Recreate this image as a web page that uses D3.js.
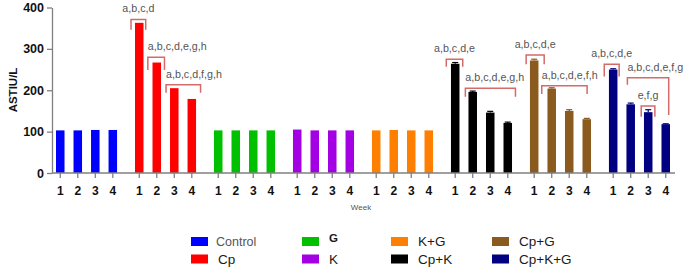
<!DOCTYPE html>
<html>
<head>
<meta charset="utf-8">
<script src="https://cdn.jsdelivr.net/npm/d3@7"></script>
<style>
  body { margin: 0; background: #fff; }
  svg { font-family: "Liberation Sans", Arial, sans-serif; }
</style>
</head>
<body>
<svg id="chart" width="685" height="269"></svg>
<script>
// Groups and weeks
const groups = ["Control", "Cp", "G", "K", "K+G", "Cp+K", "Cp+G", "Cp+K+G"];
const weeks = [1, 2, 3, 4];
const colors = ["#0000ff", "#ff0000", "#00c000", "#a400e4", "#ff8000", "#000000", "#8b5a1e", "#000080"];

// AST (IU/L) per group, weeks 1-4
const control = [103, 103, 104, 104];
const cp      = [363, 267, 205, 179];
const g       = [103, 103, 103, 103];
const k       = [105, 103, 103, 103];
const kg      = [103, 104, 103, 103];
const cpk     = [264, 196, 146, 121];
const cpg     = [272, 204, 150, 130];
const cpkg    = [250, 166, 147, 118];
const values = [control, cp, g, k, kg, cpk, cpg, cpkg];

// error (SEM) per group
const errors = [
  [0, 0, 0, 0], [0, 0, 0, 0], [0, 0, 0, 0], [0, 0, 0, 0], [0, 0, 0, 0],
  [3, 2, 3, 2], [3, 2, 3, 2], [2, 3, 6, 1]
];

const yTicks = [0, 100, 200, 300, 400];

// significance brackets: group, week span, bracket level, leg ends (IU/L), letters
const brackets = [
  { group: "Cp", from: 0.53, to: 1.37, top: 371, legL: 346, legR: 346, text: "a,b,c,d", align: "middle" },
  { group: "Cp", from: 1.49, to: 2.44, top: 280, legL: 249, legR: 249, text: "a,b,c,d,e,g,h", align: "start" },
  { group: "Cp", from: 2.53, to: 4.5, top: 213, legL: 194, legR: 194, text: "a,b,c,d,f,g,h", align: "start" },
  { group: "Cp+K", from: 0.49, to: 1.43, top: 275, legL: 257, legR: 257, text: "a,b,c,d,e", align: "middle" },
  { group: "Cp+K", from: 1.58, to: 4.44, top: 205, legL: 184, legR: 184, text: "a,b,c,d,e,g,h", align: "start" },
  { group: "Cp+G", from: 0.54, to: 1.57, top: 285, legL: 263, legR: 263, text: "a,b,c,d,e", align: "middle" },
  { group: "Cp+G", from: 1.43, to: 4.02, top: 211, legL: 191, legR: 191, text: "a,b,c,d,e,f,h", align: "start" },
  { group: "Cp+K+G", from: 0.49, to: 1.34, top: 263, legL: 233, legR: 233, text: "a,b,c,d,e", align: "middle" },
  { group: "Cp+K+G", from: 1.81, to: 4.17, top: 230, legL: 213, legR: 140, text: "a,b,c,d,e,f,g", align: "start" },
  { group: "Cp+K+G", from: 2.6, to: 3.38, top: 162, legL: 136, legR: 136, text: "e,f,g", align: "middle" }
];

const svg = d3.select("#chart");
const plotLeft = 52, plotRight = 675, plotTop = 7.5, plotBottom = 173;

const x0 = d3.scaleBand().domain(groups).range([51.5, 674.5]).paddingInner(0.113).paddingOuter(0);
const x1 = d3.scaleBand().domain(weeks).range([0, x0.bandwidth()]).paddingInner(0.514).paddingOuter(0.257);
const xw = d3.scaleLinear().domain([1, 4])
  .range([x1(1) + x1.bandwidth() / 2, x1(4) + x1.bandwidth() / 2]);
const y = d3.scaleLinear().domain([0, 400]).range([plotBottom, plotTop]);

const rows = [];
groups.forEach((grp, i) => {
  weeks.forEach((w, j) => {
    rows.push({ group: grp, week: w, value: values[i][j], err: errors[i][j], color: colors[i] });
  });
});

// bars
svg.append("g").selectAll("rect")
  .data(rows)
  .enter().append("rect")
  .attr("x", d => x0(d.group) + x1(d.week))
  .attr("width", x1.bandwidth())
  .attr("y", d => y(d.value))
  .attr("height", d => y(0) - y(d.value))
  .attr("fill", d => d.color);

// error bars
const eb = svg.append("g").selectAll("g")
  .data(rows.filter(d => d.err > 0))
  .enter().append("g")
  .attr("stroke", d => d.color)
  .attr("stroke-width", 1.2);
eb.append("line")
  .attr("x1", d => x0(d.group) + xw(d.week))
  .attr("x2", d => x0(d.group) + xw(d.week))
  .attr("y1", d => y(d.value))
  .attr("y2", d => y(d.value + d.err));
eb.append("line")
  .attr("x1", d => x0(d.group) + xw(d.week) - 3)
  .attr("x2", d => x0(d.group) + xw(d.week) + 3)
  .attr("y1", d => y(d.value + d.err))
  .attr("y2", d => y(d.value + d.err));

// y axis
const yAxis = svg.append("g")
  .attr("transform", "translate(" + plotLeft + ",0)")
  .call(d3.axisLeft(y).tickValues(yTicks).tickSize(5).tickPadding(3).tickSizeOuter(0));
yAxis.select(".domain").attr("stroke", "#808080").attr("stroke-width", 1.3);
yAxis.selectAll(".tick line").attr("stroke", "#808080").attr("stroke-width", 1.3);
yAxis.selectAll(".tick text")
  .attr("fill", "#111")
  .style("font-size", "12.5px")
  .style("font-weight", "bold");

// x axis line + ticks
svg.append("line")
  .attr("x1", plotLeft).attr("x2", plotRight)
  .attr("y1", plotBottom).attr("y2", plotBottom)
  .attr("stroke", "#808080").attr("stroke-width", 1.3);

const xt = svg.append("g").selectAll("g")
  .data(rows)
  .enter().append("g")
  .attr("transform", d => "translate(" + (x0(d.group) + xw(d.week)) + "," + plotBottom + ")");
xt.append("line").attr("y2", 5).attr("stroke", "#808080").attr("stroke-width", 1.3);
xt.append("text")
  .attr("y", 22)
  .attr("text-anchor", "middle")
  .attr("fill", "#111")
  .style("font-size", "12px")
  .style("font-weight", "bold")
  .text(d => d.week);

// axis titles
svg.append("text")
  .attr("transform", "rotate(-90)")
  .attr("x", -90)
  .attr("y", 17)
  .attr("text-anchor", "middle")
  .attr("fill", "#111")
  .style("font-size", "11.5px")
  .style("font-weight", "bold")
  .text("ASTIU/L");

svg.append("text")
  .attr("x", 361)
  .attr("y", 209.5)
  .attr("text-anchor", "middle")
  .attr("fill", "#555")
  .style("font-size", "8px")
  .text("Week");

// significance brackets
const br = svg.append("g").selectAll("g")
  .data(brackets)
  .enter().append("g");
br.append("path")
  .attr("d", d => {
    const xa = x0(d.group) + xw(d.from), xb = x0(d.group) + xw(d.to);
    return "M" + xa + "," + y(d.legL) + "V" + y(d.top) + "H" + xb + "V" + y(d.legR);
  })
  .attr("fill", "none")
  .attr("stroke", "#d46a6a")
  .attr("stroke-width", 1.5);
br.append("text")
  .attr("x", d => d.align === "middle"
    ? x0(d.group) + (xw(d.from) + xw(d.to)) / 2
    : x0(d.group) + xw(d.from))
  .attr("y", d => y(d.top) - 7)
  .attr("text-anchor", d => d.align)
  .attr("fill", "#555")
  .style("font-size", "10.7px")
  .text(d => d.text);

// legend: two rows, four columns
const legendCols = [191, 302, 391, 492];
const legend = svg.append("g").selectAll("g")
  .data(groups)
  .enter().append("g")
  .attr("transform", (d, i) => "translate(" + legendCols[Math.floor(i / 2)] + "," + (i % 2 === 0 ? 241.5 : 259) + ")");
legend.append("rect")
  .attr("x", 0).attr("y", -4.5)
  .attr("width", 17).attr("height", 9)
  .attr("fill", (d, i) => colors[i]);
legend.append("text")
  .attr("x", d => d === "Control" ? 25 : 27)
  .attr("y", d => d === "G" ? -2.5 : 4.8)
  .attr("fill", d => d === "Control" ? "#555" : "#1a1a1a")
  .style("font-size", d => d === "Control" ? "12.5px" : d === "G" ? "11.5px" : "13.5px")
  .style("font-weight", d => d === "G" ? "bold" : "normal")
  .attr("dominant-baseline", d => d === "G" ? "middle" : "auto")
  .text(d => d);
</script>
</body>
</html>
